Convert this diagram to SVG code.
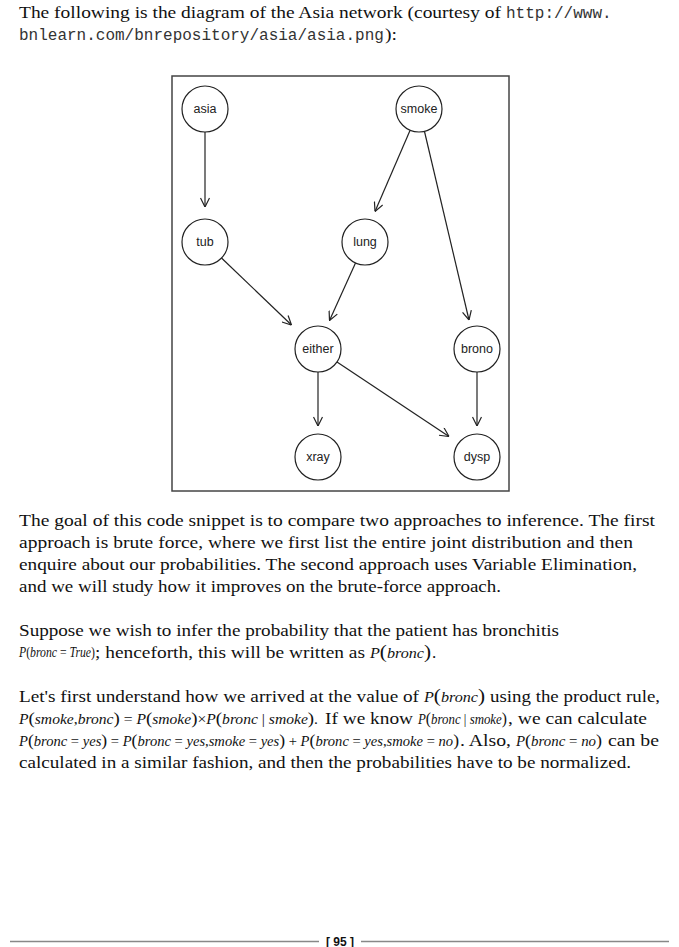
<svg xmlns="http://www.w3.org/2000/svg" width="679" height="947" viewBox="0 0 679 947">
<style>
.t{font-family:"Liberation Serif",serif;font-size:17px;fill:#111}
.c{font-family:"Liberation Mono",monospace;font-size:16px;fill:#333}
.m{font-family:"Liberation Serif",serif;font-size:14.5px;fill:#111}
.i{font-style:italic}
.p{font-size:17.5px}
.nl{font-family:"Liberation Sans",Arial,sans-serif;font-size:12.5px;fill:#222;text-anchor:middle}
.nd{fill:#fff;stroke:#222;stroke-width:1.2}
.e{stroke:#222;stroke-width:1.2;fill:none;marker-end:url(#ah)}
.ft{font-family:"Liberation Sans",Arial,sans-serif;font-size:12px;font-weight:bold;fill:#111;text-anchor:middle}
</style>
<defs>
<marker id="ah" viewBox="0 0 10 10" refX="10" refY="5" markerWidth="10" markerHeight="10" markerUnits="userSpaceOnUse" orient="auto">
<path d="M1,0.5 L10,5 L1,9.5" fill="none" stroke="#222" stroke-width="1.2"/>
</marker>
</defs>
<rect width="679" height="947" fill="#fff"/>

<text class="t" x="19" y="18" textLength="482" lengthAdjust="spacingAndGlyphs">The following is the diagram of the Asia network (courtesy of</text>
<text class="c" x="506" y="18">http://www.</text>
<text class="c" x="19" y="40">bnlearn.com/bnrepository/asia/asia.png</text>
<text class="t" x="385" y="40" textLength="12" lengthAdjust="spacingAndGlyphs">):</text>

<rect x="172" y="76" width="337" height="415" fill="none" stroke="#444" stroke-width="1.5"/>

<g id="connectors">
<line class="e" x1="205" y1="132" x2="205" y2="207"/>
<line class="e" x1="410" y1="130.5" x2="375" y2="211.5"/>
<line class="e" x1="424.5" y1="131.5" x2="469" y2="320"/>
<line class="e" x1="221.5" y1="258" x2="291.5" y2="325"/>
<line class="e" x1="355.5" y1="263" x2="329.5" y2="320.5"/>
<line class="e" x1="318" y1="372" x2="318" y2="426"/>
<line class="e" x1="337" y1="362" x2="449" y2="436.5"/>
<line class="e" x1="477" y1="372" x2="477" y2="426"/>
</g>

<g id="asia"><circle class="nd" cx="205" cy="109" r="23"/><text class="nl" x="205" y="113">asia</text></g>
<g id="smoke"><circle class="nd" cx="419" cy="109" r="23"/><text class="nl" x="419" y="113">smoke</text></g>
<g id="tub"><circle class="nd" cx="205" cy="242" r="23"/><text class="nl" x="205" y="246">tub</text></g>
<g id="lung"><circle class="nd" cx="365" cy="242" r="23"/><text class="nl" x="365" y="246">lung</text></g>
<g id="either"><circle class="nd" cx="318" cy="349" r="23"/><text class="nl" x="318" y="353">either</text></g>
<g id="brono"><circle class="nd" cx="477" cy="349" r="23"/><text class="nl" x="477" y="353">brono</text></g>
<g id="xray"><circle class="nd" cx="318" cy="457" r="23"/><text class="nl" x="318" y="461">xray</text></g>
<g id="dysp"><circle class="nd" cx="477" cy="457" r="23"/><text class="nl" x="477" y="461">dysp</text></g>

<text class="t" x="19" y="526" textLength="636" lengthAdjust="spacingAndGlyphs">The goal of this code snippet is to compare two approaches to inference. The first</text>
<text class="t" x="19" y="548" textLength="614" lengthAdjust="spacingAndGlyphs">approach is brute force, where we first list the entire joint distribution and then</text>
<text class="t" x="19" y="570" textLength="618" lengthAdjust="spacingAndGlyphs">enquire about our probabilities. The second approach uses Variable Elimination,</text>
<text class="t" x="19" y="592" textLength="482" lengthAdjust="spacingAndGlyphs">and we will study how it improves on the brute-force approach.</text>

<text class="t" x="19" y="636" textLength="540" lengthAdjust="spacingAndGlyphs">Suppose we wish to infer the probability that the patient has bronchitis</text>
<text class="m" x="19" y="657" font-size="12" textLength="76" lengthAdjust="spacingAndGlyphs"><tspan class="i">P</tspan><tspan font-size="14.5">(</tspan><tspan class="i">bronc</tspan> = <tspan class="i">True</tspan><tspan font-size="14.5">)</tspan></text>
<text class="t" x="95" y="658" textLength="270" lengthAdjust="spacingAndGlyphs">; henceforth, this will be written as</text>
<text class="m" x="370" y="658" font-size="16" textLength="61" lengthAdjust="spacingAndGlyphs"><tspan class="i">P</tspan><tspan font-size="19">(</tspan><tspan class="i">bronc</tspan><tspan font-size="19">)</tspan></text>
<text class="t" x="432" y="658">.</text>

<text class="t" x="19" y="702" textLength="400" lengthAdjust="spacingAndGlyphs">Let's first understand how we arrived at the value of</text>
<text class="m" x="424" y="702" font-size="16" textLength="61" lengthAdjust="spacingAndGlyphs"><tspan class="i">P</tspan><tspan font-size="19">(</tspan><tspan class="i">bronc</tspan><tspan font-size="19">)</tspan></text>
<text class="t" x="490" y="702" textLength="170" lengthAdjust="spacingAndGlyphs">using the product rule,</text>

<text class="m" x="19" y="724" textLength="299" lengthAdjust="spacingAndGlyphs"><tspan class="i">P</tspan><tspan class="p">(</tspan><tspan class="i">smoke</tspan>,<tspan class="i">bronc</tspan><tspan class="p">)</tspan> = <tspan class="i">P</tspan><tspan class="p">(</tspan><tspan class="i">smoke</tspan><tspan class="p">)</tspan>×<tspan class="i">P</tspan><tspan class="p">(</tspan><tspan class="i">bronc</tspan> | <tspan class="i">smoke</tspan><tspan class="p">)</tspan>.</text>
<text class="t" x="325" y="724" textLength="88" lengthAdjust="spacingAndGlyphs">If we know</text>
<text class="m" x="418" y="724" textLength="89" lengthAdjust="spacingAndGlyphs"><tspan class="i">P</tspan><tspan class="p">(</tspan><tspan class="i">bronc</tspan> | <tspan class="i">smoke</tspan><tspan class="p">)</tspan></text>
<text class="t" x="508" y="724" textLength="139" lengthAdjust="spacingAndGlyphs">, we can calculate</text>

<text class="m" x="19" y="746" textLength="440" lengthAdjust="spacingAndGlyphs"><tspan class="i">P</tspan><tspan class="p">(</tspan><tspan class="i">bronc</tspan> = <tspan class="i">yes</tspan><tspan class="p">)</tspan> = <tspan class="i">P</tspan><tspan class="p">(</tspan><tspan class="i">bronc</tspan> = <tspan class="i">yes</tspan>,<tspan class="i">smoke</tspan> = <tspan class="i">yes</tspan><tspan class="p">)</tspan> + <tspan class="i">P</tspan><tspan class="p">(</tspan><tspan class="i">bronc</tspan> = <tspan class="i">yes</tspan>,<tspan class="i">smoke</tspan> = <tspan class="i">no</tspan><tspan class="p">)</tspan></text>
<text class="t" x="460" y="746" textLength="51" lengthAdjust="spacingAndGlyphs">. Also,</text>
<text class="m" x="516" y="746" textLength="86" lengthAdjust="spacingAndGlyphs"><tspan class="i">P</tspan><tspan class="p">(</tspan><tspan class="i">bronc</tspan> = <tspan class="i">no</tspan><tspan class="p">)</tspan></text>
<text class="t" x="608" y="746" textLength="51" lengthAdjust="spacingAndGlyphs">can be</text>
<text class="t" x="19" y="768" textLength="612" lengthAdjust="spacingAndGlyphs">calculated in a similar fashion, and then the probabilities have to be normalized.</text>

<line x1="10" y1="941.5" x2="319" y2="941.5" stroke="#888" stroke-width="1.5"/>
<line x1="361" y1="941.5" x2="669" y2="941.5" stroke="#888" stroke-width="1.5"/>
<text class="ft" x="340" y="945.5">[ 95 ]</text>
</svg>
